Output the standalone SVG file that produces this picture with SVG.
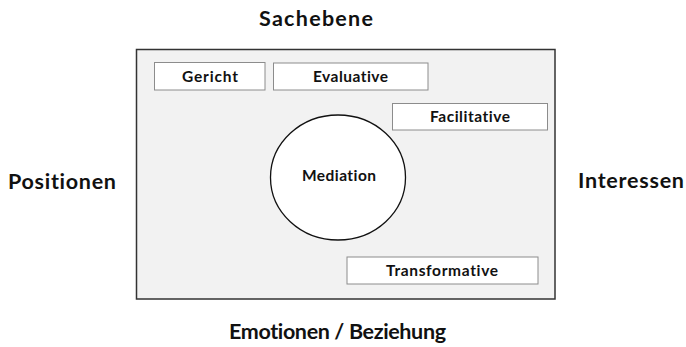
<svg xmlns="http://www.w3.org/2000/svg" width="686" height="347" viewBox="0 0 686 347">
<style>
.axis{font-family:Lato,"Open Sans","DejaVu Sans",sans-serif;font-weight:bold;font-size:21.5px;fill:#111;font-variant-ligatures:none}
.lbl{font-family:Lato,"Open Sans","DejaVu Sans",sans-serif;font-weight:bold;font-size:15.5px;fill:#111;font-variant-ligatures:none}
.box{fill:#fff;stroke:#8c8c8c;stroke-width:1}
</style>
<rect width="686" height="347" fill="#fff"/>
<g id="frame"><rect x="136.5" y="49.5" width="418.5" height="249.5" fill="#f2f2f2" stroke="#333" stroke-width="1.5"/></g>
<g id="axes">
<text class="axis" x="259" y="26" textLength="114" lengthAdjust="spacing">Sachebene</text>
<text class="axis" x="8" y="189" textLength="108" lengthAdjust="spacing">Positionen</text>
<text class="axis" x="578" y="188" textLength="106" lengthAdjust="spacing">Interessen</text>
<text class="axis" x="229" y="339" textLength="217" lengthAdjust="spacing">Emotionen / Beziehung</text>
</g>
<g id="gericht"><rect class="box" x="154.5" y="62.5" width="110.5" height="27.5"/><text class="lbl" x="182" y="82" textLength="56" lengthAdjust="spacing">Gericht</text></g>
<g id="evaluative"><rect class="box" x="273.5" y="63" width="154.5" height="27"/><text class="lbl" x="313" y="82" textLength="75" lengthAdjust="spacing">Evaluative</text></g>
<g id="facilitative"><rect class="box" x="392.5" y="103.5" width="155" height="26.5"/><text class="lbl" x="430" y="122" textLength="80" lengthAdjust="spacing">Facilitative</text></g>
<g id="mediation"><ellipse cx="338" cy="177.5" rx="67.5" ry="62.5" fill="#fff" stroke="#111" stroke-width="1.3"/><text class="lbl" x="302" y="181" textLength="74" lengthAdjust="spacing">Mediation</text></g>
<g id="transformative"><rect class="box" x="347" y="257" width="191" height="27"/><text class="lbl" x="386" y="276" textLength="112" lengthAdjust="spacing">Transformative</text></g>
<g id="connectors"></g>
</svg>
